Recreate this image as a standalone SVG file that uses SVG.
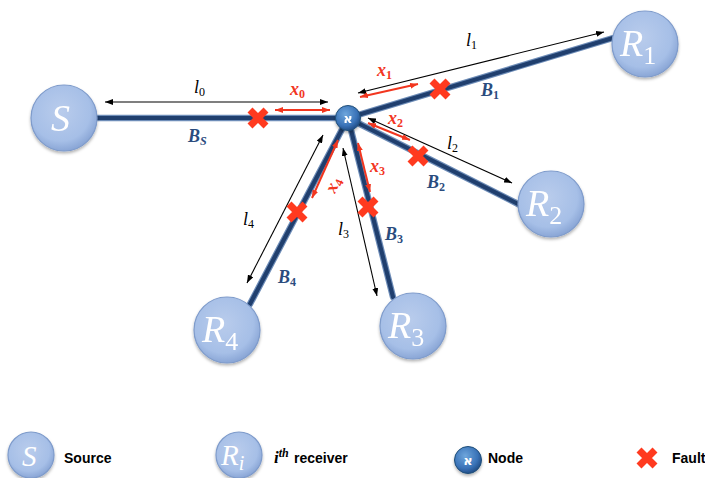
<svg xmlns="http://www.w3.org/2000/svg" width="705" height="478" viewBox="0 0 705 478">
<style>
.cableO{stroke:#6E8DB8;stroke-width:6.5;fill:none;stroke-linecap:round}
.cableI{stroke:#203F6E;stroke-width:4.2;fill:none;stroke-linecap:round}
.blk{stroke:#000;stroke-width:1.1;fill:none}
.red{stroke:#F2361F;stroke-width:2;fill:none}
.rc{fill:url(#gR);stroke:#7E9BCB;stroke-width:1.2}
.big{font-family:"Liberation Serif",serif;font-style:italic;fill:#fff;font-size:38px}
.sub{font-family:"Liberation Serif",serif;font-style:normal;fill:#fff;font-size:26px}
.lab{font-family:"Liberation Serif",serif;font-style:italic;font-size:18px;fill:#000}
.xl{font-family:"Liberation Serif",serif;font-style:italic;font-weight:bold;font-size:18px;fill:#F2361F}
.bl{font-family:"Liberation Serif",serif;font-style:italic;font-weight:bold;font-size:18px;fill:#2B4C7E}
.s{font-size:12px;font-style:normal}
.si{font-size:12px}
.leg{font-family:"Liberation Sans",Arial,sans-serif;font-weight:bold;font-size:14px;fill:#000}
</style>
<defs>
<radialGradient id="gR" cx="0.45" cy="0.4" r="0.6">
<stop offset="0" stop-color="#B9CCEC"/>
<stop offset="0.75" stop-color="#A6BFE7"/>
<stop offset="1" stop-color="#8AA6D6"/>
</radialGradient>
<radialGradient id="gN" cx="0.4" cy="0.35" r="0.65">
<stop offset="0" stop-color="#6EA6DC"/>
<stop offset="0.7" stop-color="#3A73B8"/>
<stop offset="1" stop-color="#23508A"/>
</radialGradient>
<filter id="sh" x="-20%" y="-20%" width="140%" height="150%">
<feDropShadow dx="0" dy="2" stdDeviation="1.5" flood-color="#000" flood-opacity="0.3"/>
</filter>
<marker id="ab" viewBox="0 0 8 6" refX="8" refY="3" markerWidth="8" markerHeight="6" markerUnits="userSpaceOnUse" orient="auto-start-reverse">
<path d="M0,0 L8,3 L0,6 Z" fill="#000"/>
</marker>
<marker id="ar" viewBox="0 0 8 6" refX="8" refY="3" markerWidth="8" markerHeight="6" markerUnits="userSpaceOnUse" orient="auto-start-reverse">
<path d="M0,0 L8,3 L0,6 Z" fill="#F2361F"/>
</marker>
<g id="fx">
<path d="M-8,-8 L8,8 M8,-8 L-8,8" stroke="#FF3A1F" stroke-width="7" stroke-linecap="butt"/>
</g>
</defs>
<rect width="705" height="478" fill="#fff"/>

<g id="connectors">
<g id="cables">
<line class="cableO" x1="97" y1="118" x2="348" y2="118"/>
<line class="cableO" x1="348" y1="118" x2="613" y2="38"/>
<line class="cableO" x1="348" y1="118" x2="520" y2="205"/>
<line class="cableO" x1="348" y1="118" x2="393" y2="297"/>
<line class="cableO" x1="348" y1="118" x2="250" y2="304"/>
<line class="cableI" x1="97" y1="118" x2="348" y2="118"/>
<line class="cableI" x1="348" y1="118" x2="613" y2="38"/>
<line class="cableI" x1="348" y1="118" x2="520" y2="205"/>
<line class="cableI" x1="348" y1="118" x2="393" y2="297"/>
<line class="cableI" x1="348" y1="118" x2="250" y2="304"/>
</g>
<g id="lengths">
<line class="blk" x1="105" y1="102" x2="328" y2="102" marker-start="url(#ab)" marker-end="url(#ab)"/>
<line class="blk" x1="358" y1="93" x2="604" y2="32" marker-start="url(#ab)" marker-end="url(#ab)"/>
<line class="blk" x1="368" y1="118" x2="512" y2="183" marker-start="url(#ab)" marker-end="url(#ab)"/>
<line class="blk" x1="343" y1="148" x2="377" y2="296" marker-start="url(#ab)" marker-end="url(#ab)"/>
<line class="blk" x1="323" y1="135" x2="247" y2="283" marker-start="url(#ab)" marker-end="url(#ab)"/>
</g>
<g id="distances">
<line class="red" x1="275" y1="110" x2="330" y2="110" marker-start="url(#ar)" marker-end="url(#ar)"/>
<line class="red" x1="360" y1="97" x2="418" y2="84" marker-start="url(#ar)" marker-end="url(#ar)"/>
<line class="red" x1="368" y1="123" x2="410" y2="140" marker-start="url(#ar)" marker-end="url(#ar)"/>
<line class="red" x1="358" y1="143" x2="370" y2="192" marker-start="url(#ar)" marker-end="url(#ar)"/>
<line class="red" x1="338" y1="140" x2="312" y2="198" marker-start="url(#ar)" marker-end="url(#ar)"/>
</g>
</g>

<g id="faults">
<use href="#fx" x="258" y="118"/>
<use href="#fx" x="440" y="89"/>
<use href="#fx" x="418" y="156"/>
<use href="#fx" x="368" y="207"/>
<use href="#fx" x="297" y="212"/>
</g>

<g id="labels">
<text class="lab" x="194" y="93">l<tspan class="s" dy="3">0</tspan></text>
<text class="xl" x="290" y="95">x<tspan class="s" dy="3">0</tspan></text>
<text class="bl" x="188" y="142">B<tspan class="si" dy="3">S</tspan></text>
<text class="lab" x="466" y="46">l<tspan class="s" dy="3">1</tspan></text>
<text class="xl" x="377" y="76">x<tspan class="s" dy="3">1</tspan></text>
<text class="bl" x="481" y="96">B<tspan class="s" dy="3">1</tspan></text>
<text class="xl" x="388" y="124">x<tspan class="s" dy="3">2</tspan></text>
<text class="lab" x="447" y="149">l<tspan class="s" dy="3">2</tspan></text>
<text class="bl" x="427" y="188">B<tspan class="s" dy="3">2</tspan></text>
<text class="xl" x="370" y="172">x<tspan class="s" dy="3">3</tspan></text>
<text class="lab" x="338" y="235">l<tspan class="s" dy="3">3</tspan></text>
<text class="bl" x="385" y="240">B<tspan class="s" dy="3">3</tspan></text>
<text class="xl" transform="translate(335,194) rotate(-66)">x<tspan class="s" dy="3">4</tspan></text>
<text class="lab" x="243" y="225">l<tspan class="s" dy="3">4</tspan></text>
<text class="bl" x="278" y="283">B<tspan class="s" dy="3">4</tspan></text>
</g>

<g id="node-S" filter="url(#sh)">
<circle class="rc" cx="64" cy="118" r="33"/>
<text class="big" x="51" y="131">S</text>
</g>
<g id="node-R1" filter="url(#sh)">
<circle class="rc" cx="645" cy="44" r="33"/>
<text class="big" x="620" y="56">R<tspan class="sub" dy="8">1</tspan></text>
</g>
<g id="node-R2" filter="url(#sh)">
<circle class="rc" cx="551" cy="204" r="33"/>
<text class="big" x="526" y="216">R<tspan class="sub" dy="8">2</tspan></text>
</g>
<g id="node-R3" filter="url(#sh)">
<circle class="rc" cx="413" cy="326" r="33"/>
<text class="big" x="388" y="338">R<tspan class="sub" dy="8">3</tspan></text>
</g>
<g id="node-R4" filter="url(#sh)">
<circle class="rc" cx="227" cy="330" r="33"/>
<text class="big" x="202" y="342">R<tspan class="sub" dy="8">4</tspan></text>
</g>
<g id="node-junction" filter="url(#sh)">
<circle cx="348" cy="118" r="12.5" fill="url(#gN)" stroke="#1F4E79" stroke-width="1"/>
<text x="348" y="123" text-anchor="middle" font-family="DejaVu Sans,sans-serif" font-weight="bold" font-size="13" fill="#fff">א</text>
</g>

<g id="legend">
<g id="legend-source">
<circle class="rc" cx="31" cy="455" r="23" filter="url(#sh)"/>
<text x="22" y="466" font-family="Liberation Serif,serif" font-style="italic" font-size="29" fill="#fff">S</text>
<text class="leg" x="64" y="463">Source</text>
</g>
<g id="legend-receiver">
<circle class="rc" cx="239" cy="455" r="23" filter="url(#sh)"/>
<text x="221" y="465" font-family="Liberation Serif,serif" font-style="italic" font-size="29" fill="#fff">R<tspan font-size="20" dy="5">i</tspan></text>
<text x="274" y="463" font-family="Liberation Serif,serif" font-style="italic" font-weight="bold" font-size="17" fill="#000">i<tspan font-size="12" dy="-6">th</tspan></text>
<text class="leg" x="294" y="463">receiver</text>
</g>
<g id="legend-node">
<circle cx="468" cy="460" r="13.5" fill="url(#gN)" stroke="#1F4E79" stroke-width="1" filter="url(#sh)"/>
<text x="468" y="465" text-anchor="middle" font-family="DejaVu Sans,sans-serif" font-weight="bold" font-size="13" fill="#fff">א</text>
<text class="leg" x="488" y="463">Node</text>
</g>
<g id="legend-fault">
<use href="#fx" x="647" y="458"/>
<text class="leg" x="672" y="463">Fault</text>
</g>
</g>
</svg>
